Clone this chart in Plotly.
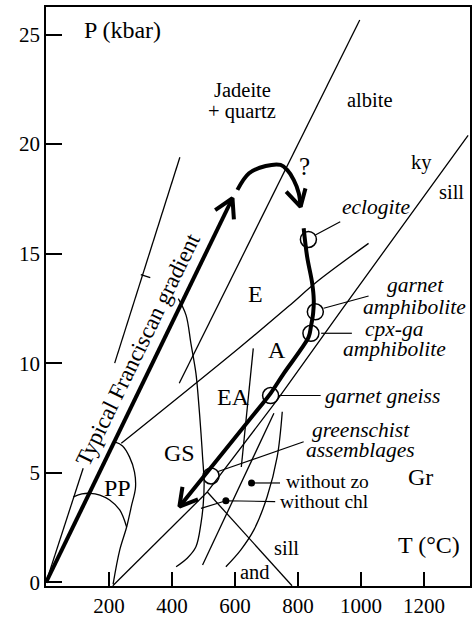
import plotly.graph_objects as go

# ---------------- axes ----------------
x_ticks = [200, 400, 600, 800, 1000, 1200]
y_ticks = [0, 5, 10, 15, 20, 25]
x_range = [0, 1346]
y_range = [-0.16, 26.255]

# ---------------- lines (T in °C, P in kbar) ----------------
# typical Franciscan gradient (thick arrow)
grad_T = [0, 592]
grad_P = [0, 17.53]
grad_head_T = [537, 592, 596.5]
grad_head_P = [16.99, 17.53, 16.57]

# steep thin line from origin (interrupted by the gradient label) with a small tick
steep_low_T = [0, 118]
steep_low_P = [0, 5.21]
steep_high_T = [218, 425]
steep_high_P = [10.01, 19.4]
steep_tick_T = [301, 331]
steep_tick_P = [14.05, 13.91]

# jadeite + quartz = albite
jd_T = [423, 996]
jd_P = [9.09, 25.66]

# Al2SiO5 boundaries
kysill_T = [512, 734, 938, 1071, 1340]
kysill_P = [4.13, 8.33, 12.43, 15.08, 20.4]
andky_T = [212, 512]
andky_P = [-0.15, 4.13]
andsill_T = [512, 781]
andsill_P = [4.13, -0.15]

# E / A boundary
ea_T = [239, 613, 771, 859, 1024]
ea_P = [6.35, 10.7, 12.61, 13.71, 15.47]

# PP field
pp_right_T = [218, 243, 265, 281, 284, 272, 256, 234, 213]
pp_right_P = [6.41, 6.23, 5.73, 5.04, 4.31, 3.54, 2.53, 1.48, -0.07]
pp_low_T = [87, 114, 139, 171, 202, 234, 256]
pp_low_P = [3.91, 4.04, 4.07, 3.99, 3.76, 3.31, 2.53]

# GS boundary
gs_T = [420, 444.5, 460, 476, 484, 492, 497, 502, 499, 492, 476, 449, 413]
gs_P = [12.95, 12.2, 10.91, 9.54, 8.32, 6.82, 5.74, 4.54, 3.54, 2.7, 1.63, 1.12, 0.72]

# EA / A near-vertical line
eav_T = [658, 620]
eav_P = [10.68, 5.27]

# reaction lines (without zo / without chl)
r1_T = [723.5, 497]
r1_P = [7.72, 0.80]
r2_T = [750, 734, 702, 660, 618, 571]
r2_P = [7.79, 5.74, 3.91, 2.40, 1.48, 0.72]

# P-T path (thick)
path_T = [818, 829, 845, 850, 848, 841, 834, 808, 755, 713, 671, 423.4]
path_P = [16.16, 14.86, 13.65, 12.89, 12.28, 11.67, 11.21, 10.61, 9.54, 8.63, 7.87, 3.46]
path_head_T = [482.5, 423.4, 433.2]
path_head_P = [3.79, 3.46, 4.36]

# curved "?" arrow
curve_T = [607.6, 644.6, 697.3, 744.7, 765.6, 786.7, 802.5, 808.2]
curve_P = [17.91, 18.67, 19.0, 19.05, 18.82, 18.36, 17.76, 17.14]
curve_head_T = [762.4, 808.2, 823.7]
curve_head_P = [17.83, 17.14, 17.98]

# sample circles
circ_T = [833, 855, 841, 713, 524]
circ_P = [15.65, 12.35, 11.37, 8.53, 4.86]

# leader lines
lead_ecl_T = [855, 934]
lead_ecl_P = [15.85, 16.46]
lead_gam_T = [881.5, 1024]
lead_gam_P = [12.51, 13.07]
lead_cpx_T = [873.6, 971]
lead_cpx_P = [11.37, 11.37]
lead_gn_T = [739, 872]
lead_gn_P = [8.53, 8.53]
lead_gs_T = [544, 818]
lead_gs_P = [5.05, 6.42]
lead_zo_T = [652.5, 743]
lead_zo_P = [4.54, 4.54]
lead_chl_T = [727.6, 571, 492]
lead_chl_P = [3.69, 3.73, 3.38]

dots_T = [652.5, 571]
dots_P = [4.54, 3.73]

# ---------------- labels ----------------
big_labels = ["E", "A", "EA", "GS", "PP", "Gr"]
big_T = [663.5, 734.6, 594, 423.4, 227.5, 1188]
big_P = [13.16, 10.61, 8.46, 5.91, 4.31, 4.83]

plain_labels = ["Jadeite", "+ quartz", "albite", "ky", "sill", "sill", "and"]
plain_T = [624, 622, 1027, 1191, 1286, 764.6, 663.5]
plain_P = [22.47, 21.47, 22.01, 19.18, 17.81, 1.57, 0.49]

question_label = "?"
question_T = 822
question_P = 19.0

italic_labels = ["eclogite", "garnet", "amphibolite", "cpx-ga", "amphibolite",
                 "garnet gneiss", "greenschist", "assemblages"]
italic_T = [1049, 1172, 1169, 1106, 1106, 1067, 999, 998]
italic_P = [17.13, 13.57, 12.57, 11.55, 10.67, 8.52, 6.96, 6.04]

left_labels = ["without zo", "without chl"]
left_T = [754, 738]
left_P = [4.63, 3.69]

axis_labels = ["P (kbar)", "T (°C)"]
axis_T = [114, 1215]
axis_P = [25.2, 1.71]

gradient_label = "Typical Franciscan gradient"
gradient_T = 292
gradient_P = 10.63

FONT = "Liberation Serif, Times New Roman, serif"
BLACK = "black"

fig = go.Figure()


def add_line(T, P, width=1.3, shape="linear"):
    fig.add_trace(go.Scatter(x=T, y=P, mode="lines",
                             line=dict(color=BLACK, width=width, shape=shape),
                             hoverinfo="skip", showlegend=False))


# thin lines
add_line(steep_low_T, steep_low_P)
add_line(steep_high_T, steep_high_P)
add_line(steep_tick_T, steep_tick_P)
add_line(jd_T, jd_P)
add_line(kysill_T, kysill_P)
add_line(andky_T, andky_P)
add_line(andsill_T, andsill_P)
add_line(ea_T, ea_P, shape="spline")
add_line(pp_right_T, pp_right_P, shape="spline")
add_line(pp_low_T, pp_low_P, shape="spline")
add_line(gs_T, gs_P, shape="spline")
add_line(eav_T, eav_P)
add_line(r1_T, r1_P)
add_line(r2_T, r2_P, shape="spline")
for lt, lp in [(lead_ecl_T, lead_ecl_P), (lead_gam_T, lead_gam_P), (lead_cpx_T, lead_cpx_P),
               (lead_gn_T, lead_gn_P), (lead_gs_T, lead_gs_P), (lead_zo_T, lead_zo_P),
               (lead_chl_T, lead_chl_P)]:
    add_line(lt, lp, width=1.2)

# thick lines
add_line(grad_T, grad_P, width=4)
add_line(grad_head_T, grad_head_P, width=4)
add_line(path_T, path_P, width=4, shape="spline")
add_line(path_head_T, path_head_P, width=4)
add_line(curve_T, curve_P, width=4, shape="spline")
add_line(curve_head_T, curve_head_P, width=4)

# circles and dots
fig.add_trace(go.Scatter(x=circ_T, y=circ_P, mode="markers",
                         marker=dict(symbol="circle-open", size=16, color=BLACK,
                                     line=dict(width=1.5, color=BLACK)),
                         hoverinfo="skip", showlegend=False))
fig.add_trace(go.Scatter(x=dots_T, y=dots_P, mode="markers",
                         marker=dict(symbol="circle", size=7, color=BLACK),
                         hoverinfo="skip", showlegend=False))


def ann(text, x, y, size, xanchor="center", angle=0):
    fig.add_annotation(text=text, x=x, y=y, xref="x", yref="y", showarrow=False,
                       xanchor=xanchor, yanchor="middle", textangle=angle,
                       font=dict(family=FONT, size=size, color=BLACK))


for t, x, y in zip(big_labels, big_T, big_P):
    ann(t, x, y, 24)
for t, x, y in zip(plain_labels, plain_T, plain_P):
    ann(t, x, y, 20.5)
ann(question_label, question_T, question_P, 25)
for t, x, y in zip(italic_labels, italic_T, italic_P):
    ann("<i>" + t + "</i>", x, y, 21.5)
for t, x, y in zip(left_labels, left_T, left_P):
    ann(t, x, y, 19.5, xanchor="left")
ann(axis_labels[0], axis_T[0], axis_P[0], 24, xanchor="left")
ann(axis_labels[1], axis_T[1], axis_P[1], 24)
ann(gradient_label, gradient_T, gradient_P, 23, angle=-64)

fig.update_layout(
    width=473, height=619,
    margin=dict(l=46, r=1, t=7, b=33),
    paper_bgcolor="white", plot_bgcolor="white",
    showlegend=False,
    font=dict(family=FONT, size=21, color=BLACK),
)
fig.update_xaxes(range=x_range, tickvals=x_ticks, ticks="inside", ticklen=14,
                 tickwidth=1.5, tickcolor=BLACK, showgrid=False, zeroline=False,
                 showline=True, linecolor=BLACK, linewidth=1.5, mirror=True,
                 tickfont=dict(family=FONT, size=21, color=BLACK))
fig.update_yaxes(range=y_range, tickvals=y_ticks, ticks="inside", ticklen=16,
                 tickwidth=1.5, tickcolor=BLACK, showgrid=False, zeroline=False,
                 showline=True, linecolor=BLACK, linewidth=1.5, mirror=True,
                 tickfont=dict(family=FONT, size=21, color=BLACK))

fig.write_html("out.html")
